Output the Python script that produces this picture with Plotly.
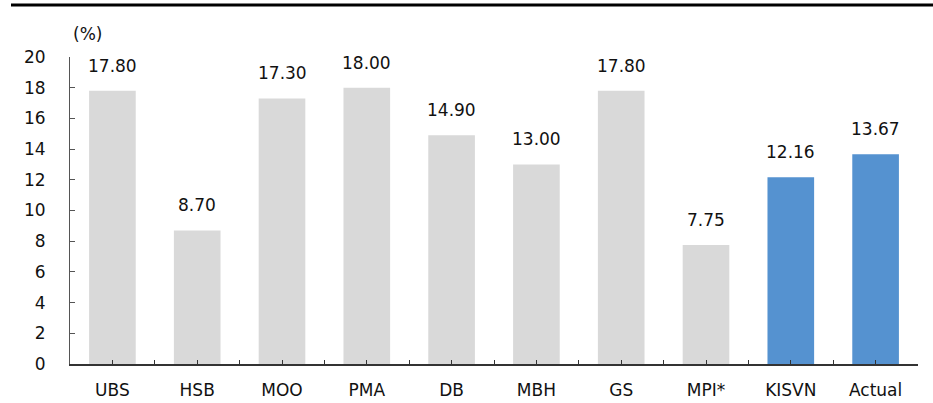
import plotly.graph_objects as go

categories = ["UBS", "HSB", "MOO", "PMA", "DB", "MBH", "GS", "MPI*", "KISVN", "Actual"]
values = [17.80, 8.70, 17.30, 18.00, 14.90, 13.00, 17.80, 7.75, 12.16, 13.67]
highlight = [False, False, False, False, False, False, False, False, True, True]
y_ticks = [0, 2, 4, 6, 8, 10, 12, 14, 16, 18, 20]

GRAY = "#d9d9d9"
BLUE = "#5592d0"
FONT = "DejaVu Sans"
FS = 17

xpos = list(range(len(categories)))
colors = [BLUE if h else GRAY for h in highlight]

fig = go.Figure()
fig.add_trace(go.Bar(x=xpos, y=values, marker=dict(color=colors, line=dict(width=0)),
                     width=0.55, hoverinfo="skip"))

for x, v in zip(xpos, values):
    fig.add_annotation(x=x, y=v, text=f"{v:.2f}", showarrow=False, yanchor="middle",
                       yshift=25, font=dict(family=FONT, size=FS, color="#111"))

# half-step ticks (category centres and boundaries)
tickvals = [i * 0.5 for i in range(-1, 2 * len(categories))]
ticktext = [categories[int(t)] if float(t).is_integer() and 0 <= t < len(categories) else "" for t in tickvals]

fig.update_layout(
    width=933, height=403,
    margin=dict(l=70, r=15, t=57, b=39),
    paper_bgcolor="white", plot_bgcolor="white",
    showlegend=False,
    font=dict(family=FONT, size=FS, color="#111"),
    xaxis=dict(range=[-0.5, len(categories) - 0.5], tickmode="array", tickvals=tickvals,
               ticktext=ticktext, ticks="inside", ticklen=4, tickcolor="#333",
               showline=True, linecolor="#333", linewidth=1.5, showgrid=False,
               zeroline=False, ticklabelstandoff=10, automargin=False),
    yaxis=dict(range=[0, 20], tickvals=y_ticks, ticks="inside", ticklen=5, tickcolor="#555",
               showline=True, linecolor="#555", linewidth=1, showgrid=False, zeroline=False,
               ticklabelstandoff=20, automargin=False),
)

fig.add_annotation(xref="paper", yref="paper", x=(87 - 70) / 848, y=(364 - 34) / 307,
                   text="(%)", showarrow=False, xanchor="center", yanchor="middle",
                   font=dict(family=FONT, size=FS, color="#111"))
fig.add_shape(type="line", xref="paper", yref="paper", x0=(11 - 70) / 848, x1=(933 - 70) / 848,
              y0=(364 - 5) / 307, y1=(364 - 5) / 307, line=dict(color="black", width=3))

fig.write_html("out.html")
